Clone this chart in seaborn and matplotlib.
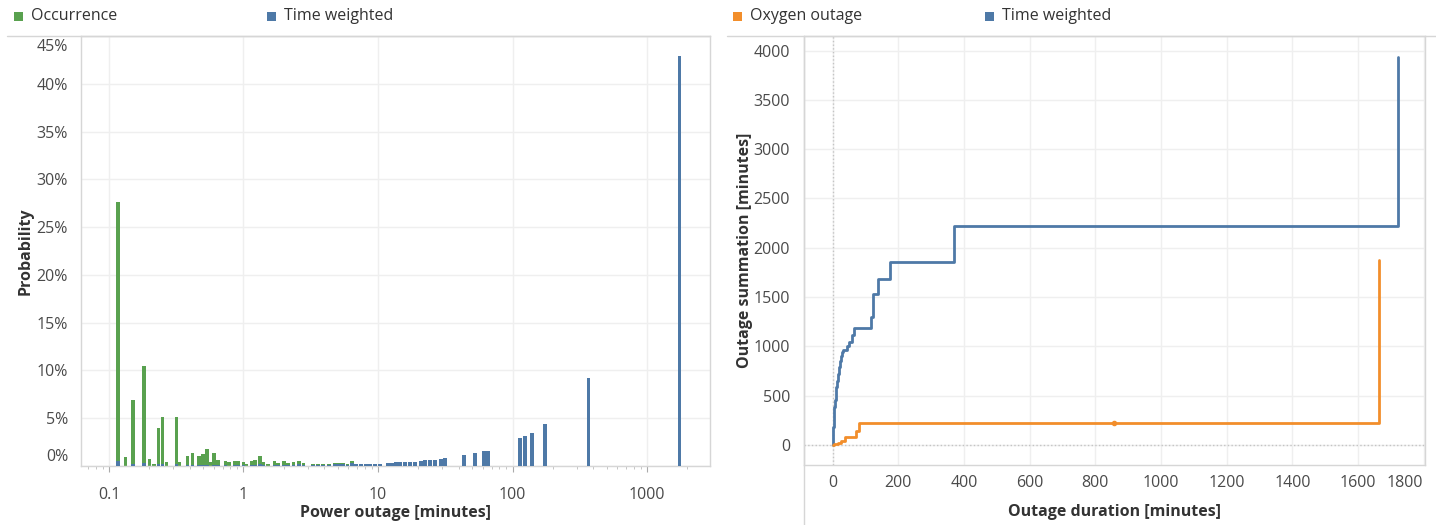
import matplotlib
matplotlib.use("Agg")
import numpy as np
import pandas as pd
import matplotlib.pyplot as plt
import matplotlib.transforms as mtransforms
from matplotlib.patches import Rectangle
from matplotlib.lines import Line2D
import seaborn as sns

sns.set_theme(style="white")
plt.rcParams["font.family"] = ["Open Sans", "DejaVu Sans"]

# --- data: left chart (power outage distribution, %) ---
outage_min = [0.117, 0.133, 0.150, 0.183, 0.200, 0.217, 0.233, 0.250, 0.267, 0.317,
              0.333, 0.383, 0.417, 0.467, 0.500, 0.533, 0.567, 0.600, 0.650, 0.733,
              0.783, 0.867, 0.917, 1.0, 1.05, 1.15, 1.22, 1.32, 1.40, 1.53,
              1.70, 1.80, 2.00, 2.15, 2.35, 2.60, 2.80, 3.28, 3.58, 3.90,
              4.32, 4.80, 5.13, 5.52, 5.93, 6.37, 6.87, 7.48, 8.15, 8.73,
              9.50, 10.4, 11.9, 12.7, 13.6, 14.6, 15.9, 17.3, 18.8, 20.9,
              22.4, 24.4, 26.6, 29.4, 31.6, 43.6, 52.9, 61.7, 66.1, 114,
              124, 140, 175, 368, 1745]
occurrence = [27.6, 0.93, 6.9, 10.5, 0.76, 0.2, 4.0, 5.1, 0.4, 5.1,
              0.4, 1.0, 1.4, 1.07, 1.27, 1.8, 0.4, 1.4, 0.6, 0.5,
              0.4, 0.55, 0.55, 0.4, 0.2, 0.55, 0.6, 1.0, 0.4, 0.2,
              0.5, 0.3, 0.5, 0.3, 0.4, 0.5, 0.35, 0.17, 0.17, 0.17,
              0.17, 0.33, 0.27, 0.33, 0.17, 0.5, 0.14, 0.14, 0.14, 0.14,
              0.14, 0.14, 0.14, 0.14, 0.14, 0.14, 0.14, 0.14, 0.14, 0.14,
              0.14, 0.14, 0.14, 0.14, 0.14, 0.14, 0.14, 0.14, 0.14, 0.14,
              0.14, 0.14, 0.14, 0.14, 0.14]
time_weighted = [0.5, 0.03, 0.17, 0.35, 0.03, 0.01, 0.17, 0.2, 0.02, 0.25,
                 0.02, 0.06, 0.1, 0.08, 0.1, 0.15, 0.04, 0.13, 0.06, 0.06,
                 0.05, 0.07, 0.08, 0.06, 0.03, 0.09, 0.1, 0.18, 0.08, 0.04,
                 0.12, 0.08, 0.14, 0.1, 0.13, 0.18, 0.14, 0.08, 0.09, 0.1,
                 0.11, 0.2, 0.18, 0.23, 0.15, 0.3, 0.24, 0.24, 0.24, 0.24,
                 0.24, 0.25, 0.33, 0.33, 0.38, 0.41, 0.41, 0.45, 0.45, 0.55,
                 0.6, 0.62, 0.65, 0.72, 0.83, 1.14, 1.35, 1.55, 1.6, 2.9,
                 3.1, 3.5, 4.4, 9.2, 42.9]

# --- data: right chart (cumulative outage, minutes) ---
tw_duration = [0, 1, 2, 3, 5, 7, 9, 11.5, 14, 17, 20, 23, 26, 30, 32, 43, 51, 58, 65,
               116, 122, 139, 175, 369, 1721]
tw_sum = [0, 90, 180, 260, 388, 460, 530, 590, 650, 725, 790, 850, 900, 944, 960, 1005,
          1046, 1113, 1187, 1299, 1535, 1680, 1855, 2220, 3937]
ox_duration = [0, 5, 10, 17, 22, 27, 37.5, 72, 79, 857, 1663]
ox_sum = [0, 5, 12, 17, 25, 44, 78, 140, 222, 222, 1880]
ox_marker = (857, 222)

GREEN = "#59a14f"
BLUE = "#4e79a7"
ORANGE = "#f28e2b"
GRID = "#efefef"
SPINE = "#d6d6d6"
TXT = "#333333"
TICK = "#4a4a4a"

W, H = 1436, 525
fig = plt.figure(figsize=(W / 100, H / 100), dpi=100)


def box(x0, y0, x1, y1):
    return [x0 / W, 1 - y1 / H, (x1 - x0) / W, (y1 - y0) / H]


def nudge(label, dx_px, dy_px):
    # shift a tick label by some pixels (Tableau keeps end labels inside the pane)
    label.set_transform(label.get_transform()
                        + mtransforms.ScaledTranslation(dx_px / 100, dy_px / 100, fig.dpi_scale_trans))


ax1 = fig.add_axes(box(80.6, 36, 710, 466))
ax2 = fig.add_axes(box(804, 36, 1425, 465))

# ----------------------------
# Left: bars on log axis
# ----------------------------
pos = np.array(outage_min)
half = 0.0137  # bar half width in decades
left = pos * 10 ** -half
width = pos * (10 ** half - 10 ** -half)
ax1.bar(left, occurrence, width=width, align="edge", color=GREEN, lw=0, zorder=2)
ax1.bar(left, time_weighted, width=width, align="edge", color=BLUE, lw=0, zorder=3)
ax1.set_xscale("log")
ax1.set_xlim(0.0615, 2940)
ax1.set_ylim(0, 45)
ax1.set_xticks([0.1, 1, 10, 100, 1000])
ax1.set_xticklabels(["0.1", "1", "10", "100", "1000"])
ax1.set_yticks(range(0, 50, 5))
ax1.set_yticklabels([f"{v}%" for v in range(0, 50, 5)])
ax1.grid(axis="y", color=GRID, lw=1)
ax1.grid(axis="x", which="major", color=GRID, lw=1)
ax1.set_axisbelow(True)
ax1.tick_params(axis="x", which="major", bottom=True, length=4, width=0.8, color="#aaaaaa",
                pad=11, labelsize=11.5, labelcolor=TICK)
ax1.tick_params(axis="x", which="minor", bottom=True, length=2.5, width=0.6, color="#bbbbbb")
ax1.tick_params(axis="y", left=False, pad=3, labelsize=11.5, labelcolor=TICK)

yl = ax1.get_yticklabels()
nudge(yl[0], 0, 11)
nudge(yl[-1], 0, -9)

ax1.set_xlabel("Power outage [minutes]", fontsize=11.5, fontweight="bold", color=TXT)
ax1.xaxis.set_label_coords(0.5, -0.09)
ax1.set_ylabel("Probability", fontsize=11.5, fontweight="bold", color=TXT)
ax1.yaxis.set_label_coords(-0.088, 0.5)
ax1.yaxis.label.set_verticalalignment("center")

# ----------------------------
# Right: cumulative step lines
# ----------------------------
ax2.axvline(0, color="#c4c4c4", lw=1, ls=":", zorder=1)
ax2.axhline(0, color="#c4c4c4", lw=1, ls=":", zorder=1)
sns.lineplot(x=tw_duration, y=tw_sum, ax=ax2, color=BLUE, lw=2, drawstyle="steps-post",
             sort=False, estimator=None, zorder=3)
sns.lineplot(x=ox_duration, y=ox_sum, ax=ax2, color=ORANGE, lw=2, drawstyle="steps-post",
             sort=False, estimator=None, zorder=4)
ax2.plot([ox_marker[0]], [ox_marker[1]], marker="o", ms=3, color=ORANGE, zorder=5)
ax2.set_xlim(-87, 1804)
ax2.set_ylim(-203, 4148)
ax2.set_xticks(range(0, 2000, 200))
ax2.set_yticks(range(0, 4500, 500))
ax2.grid(True, color=GRID, lw=1)
ax2.set_axisbelow(True)
ax2.tick_params(axis="x", bottom=False, pad=1.5, labelsize=11.5, labelcolor=TICK)
ax2.tick_params(axis="y", left=False, pad=4, labelsize=11.5, labelcolor=TICK)
nudge(ax2.get_xticklabels()[-1], -19, 0)
ax2.set_xlabel("Outage duration [minutes]", fontsize=11.5, fontweight="bold", color=TXT)
ax2.xaxis.set_label_coords(0.5, -0.092)
ax2.set_ylabel("Outage summation [minutes]", fontsize=11.5, fontweight="bold", color=TXT)
ax2.yaxis.set_label_coords(-0.095, 0.5)
ax2.yaxis.label.set_verticalalignment("center")

for ax in (ax1, ax2):
    for s in ax.spines.values():
        s.set_color(SPINE)
        s.set_linewidth(1)

# ----------------------------
# Legends & pane separators
# ----------------------------
def fig_line(x0, y0, x1, y1):
    fig.add_artist(Line2D([x0 / W, x1 / W], [1 - y0 / H, 1 - y1 / H], color=SPINE, lw=1,
                          transform=fig.transFigure))


fig_line(7, 36, 710, 36)
fig_line(727, 36, 1436, 36)
fig_line(804, 36, 804, 525)

legend_items = [(14, GREEN, "Occurrence"), (267, BLUE, "Time weighted"),
                (733, ORANGE, "Oxygen outage"), (985, BLUE, "Time weighted")]
for x, c, label in legend_items:
    fig.add_artist(Rectangle((x / W, 1 - 21 / H), 9 / W, 9 / H, color=c, lw=0,
                             transform=fig.transFigure))
    fig.text((x + 17) / W, 1 - 16.5 / H, label, fontsize=11.5, color=TXT, va="center", ha="left")

fig.savefig("out.png", dpi=100)
